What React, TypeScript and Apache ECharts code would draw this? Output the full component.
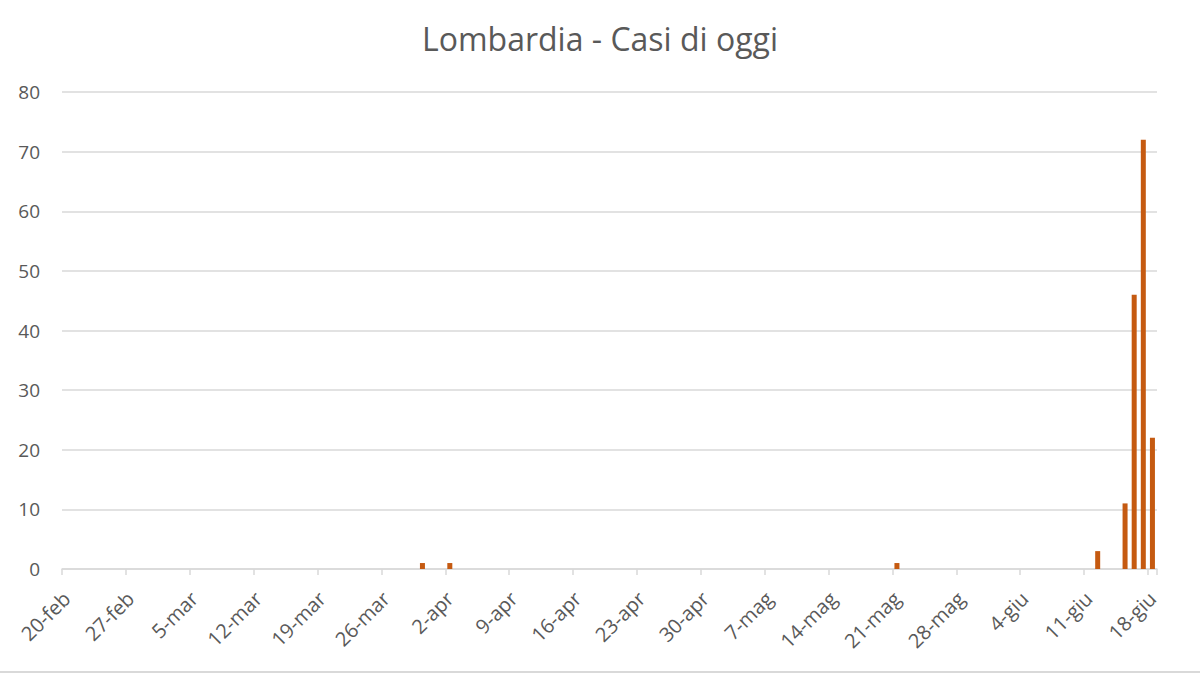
import React, { useEffect, useRef } from "react";
import * as echarts from "echarts";

const MONTHS: [string, number, number][] = [
  ["feb", 20, 29],
  ["mar", 1, 31],
  ["apr", 1, 30],
  ["mag", 1, 31],
  ["giu", 1, 18],
];

const categories: string[] = [];
MONTHS.forEach(([m, from, to]) => {
  for (let d = from; d <= to; d++) categories.push(`${d}-${m}`);
});

const caseDates = ["30-mar", "2-apr", "21-mag", "12-giu", "15-giu", "16-giu", "17-giu", "18-giu"];
const caseValues = [1, 1, 1, 3, 11, 46, 72, 22];

const yTicks = [0, 10, 20, 30, 40, 50, 60, 70, 80];
const TITLE = "Lombardia - Casi di oggi";

export default function App() {
  const ref = useRef<HTMLDivElement>(null);
  useEffect(() => {
    document.body.style.margin = "0";
    const chart = echarts.init(ref.current!, undefined, { renderer: "svg" });
    const seriesData = categories.map((c) => {
      const i = caseDates.indexOf(c);
      return i >= 0 ? caseValues[i] : null;
    });
    const font = "'Open Sans', sans-serif";
    chart.setOption({
      animation: false,
      backgroundColor: "#ffffff",
      title: {
        text: TITLE,
        left: "center",
        top: 17,
        textStyle: { color: "#595959", fontSize: 32, fontWeight: "normal", fontFamily: font },
      },
      grid: { left: 62, right: 43, top: 92, bottom: 105, containLabel: false },
      xAxis: {
        type: "category",
        data: categories,
        boundaryGap: true,
        axisLine: { lineStyle: { color: "#d9d9d9", width: 1.5 } },
        axisTick: { show: true, interval: 6, length: 6, lineStyle: { color: "#d9d9d9", width: 1.5 } },
        axisLabel: {
          interval: 6,
          rotate: 45,
          margin: 26,
          color: "#595959",
          fontSize: 20,
          fontFamily: font,
        },
      },
      yAxis: {
        type: "value",
        min: yTicks[0],
        max: yTicks[yTicks.length - 1],
        interval: 10,
        axisLine: { show: false },
        axisTick: { show: false },
        splitLine: { lineStyle: { color: "#d9d9d9", width: 1.5 } },
        axisLabel: { color: "#595959", fontSize: 19, fontFamily: font, margin: 22 },
      },
      series: [
        {
          type: "bar",
          data: seriesData,
          barWidth: 5,
          itemStyle: { color: "#C55A11" },
        },
      ],
      graphic: [
        {
          type: "line",
          shape: { x1: 0, y1: 672, x2: 1200, y2: 672 },
          style: { stroke: "#d9d9d9", lineWidth: 2 },
        },
      ],
    });
    return () => chart.dispose();
  }, []);
  return <div ref={ref} style={{ width: 1200, height: 674 }} />;
}
